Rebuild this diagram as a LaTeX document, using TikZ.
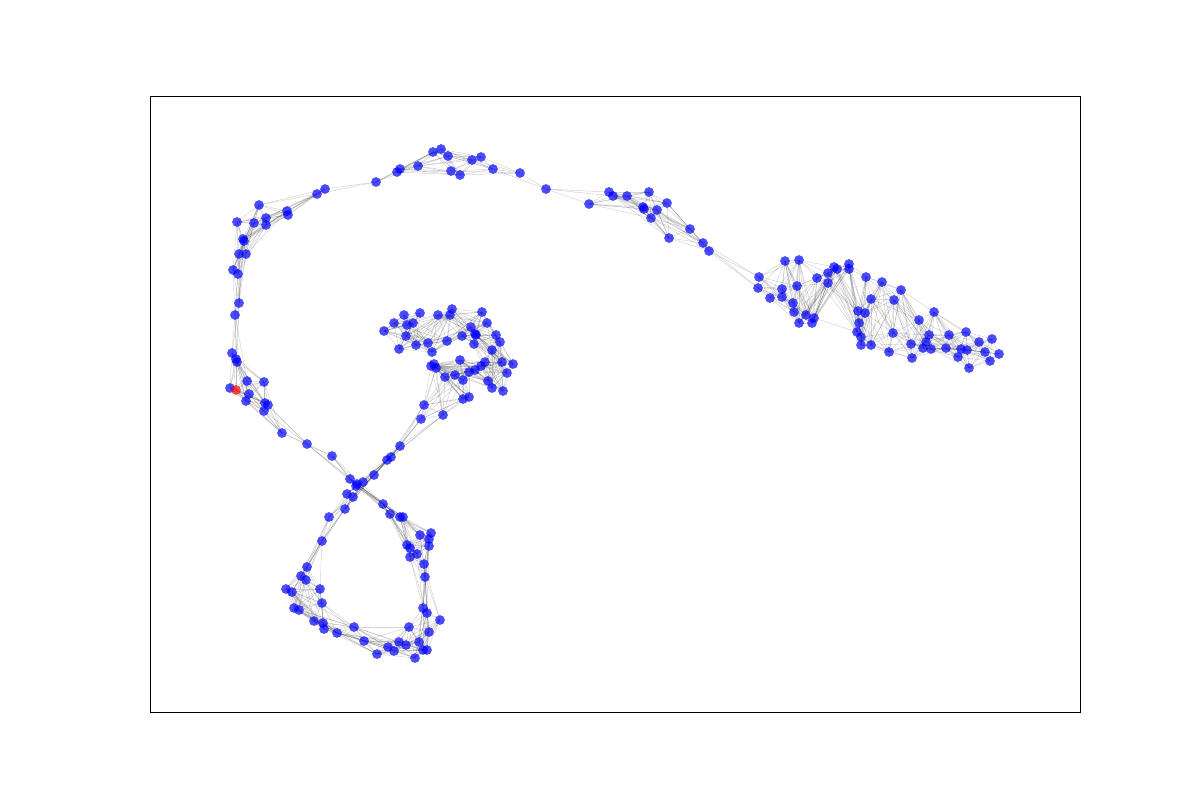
\documentclass[tikz,border=0pt]{standalone}
\usetikzlibrary{backgrounds}
\tikzset{
  vtx/.style={circle,fill=blue,fill opacity=0.7,inner sep=0pt,minimum size=1.95mm},
  link/.style={draw=black,opacity=0.16,line width=0.3pt}
}
\begin{document}
\begin{tikzpicture}[x=0.2mm,y=-0.2mm]
  \useasboundingbox (0,0) rectangle (1200,800);
  \draw[line width=0.5pt] (150,96) rectangle (1080,712); % axes box
  % vertices, ordered along the curve (right lobe -> top arc -> left side -> figure eight -> middle blob)
  \foreach \x/\y [count=\i] in {
    999/354, 992/339, 990/361, 985/352, 979/342, 969/368, 967/350, 966/332, 961/349, 958/357,
    949/335, 946/348, 934/312, 931/349, 929/335, 926/342, 923/348, 919/320, 912/358, 911/344,
    901/290, 894/300, 893/333, 889/352, 882/282, 871/299, 871/345, 866/277, 865/313, 861/345,
    861/337, 859/323, 858/311, 857/332, 849/264, 849/269, 837/269, 834/267, 828/273, 828/283,
    817/278, 814/318, 812/323, 806/315, 799/323, 799/260, 797/286, 794/312, 793/303, 785/261,
    782/297, 782/289, 770/298, 759/277, 758/288, 709/251, 703/243, 690/229, 669/238, 667/203,
    657/210, 651/218, 649/192, 644/209, 643/207, 627/196, 613/196, 609/192, 589/204, 546/189,
    520/173, 493/169, 481/157, 472/160, 460/175, 451/171, 448/156, 441/149, 433/152, 418/166,
    400/169, 397/172, 376/182, 325/189, 317/194, 288/215, 287/211, 266/218, 266/225, 259/205,
    254/223, 237/222, 244/241, 243/239, 246/254, 239/254, 238/274, 233/270, 239/303, 235/315,
    232/353, 236/359, 237/362, 247/381, 264/382, 230/388, 236/390, 249/394, 246/401, 265/403,
    268/405, 264/411, 282/433, 307/444, 332/456, 350/479, 356/486, 357/484, 383/504, 390/514,
    400/517, 403/517, 407/545, 410/548, 417/554, 410/557, 420/535, 431/533, 429/539, 429/546,
    424/564, 425/577, 423/608, 427/613, 440/620, 429/632, 427/650, 423/650, 419/642, 415/658,
    409/627, 406/645, 399/642, 394/651, 388/647, 377/654, 364/641, 354/627, 337/633, 324/629,
    323/623, 314/621, 322/603, 299/610, 294/608, 292/592, 286/589, 320/589, 306/580, 301/576,
    307/567, 322/541, 329/517, 345/509, 353/497, 347/494, 363/482, 374/475, 387/460, 391/457,
    400/446, 421/419, 424/405, 443/415, 463/399, 469/397, 445/377, 455/375, 463/380, 436/368,
    431/366, 434/364, 460/360, 469/372, 475/370, 481/366, 485/362, 488/381, 492/388, 503/391,
    507/373, 502/362, 513/364, 492/350, 500/342, 496/335, 474/344, 476/335, 475/334, 462/336,
    471/327, 487/323, 482/312, 452/309, 450/315, 438/315, 447/341, 432/352, 428/343, 416/345,
    406/336, 399/349, 384/331, 394/323, 404/315, 407/325, 413/323, 420/313} {
    \ifnum\i=107
      \node[vtx,fill=red] (v\i) at (\x,\y) {}; % the marked vertex
    \else
      \node[vtx] (v\i) at (\x,\y) {};
    \fi
    \expandafter\xdef\csname vx\i\endcsname{\x}
    \expandafter\xdef\csname vy\i\endcsname{\y}
    \xdef\nv{\i}
  }
  % edges between near neighbours, under the vertices
  \begin{pgfonlayer}{background}
    \foreach \i in {1,...,\nv} {
      \foreach \k in {1,...,8} {
        \pgfmathtruncatemacro\j{\i+\k}
        \ifnum\j>\nv\else
          \pgfmathsetmacro\d{veclen(\csname vx\i\endcsname-\csname vx\j\endcsname,\csname vy\i\endcsname-\csname vy\j\endcsname)}
          \ifdim\d pt<72pt
            \draw[link] (v\i.center) -- (v\j.center);
          \fi
        \fi
      }
    }
  \end{pgfonlayer}
\end{tikzpicture}
\end{document}
